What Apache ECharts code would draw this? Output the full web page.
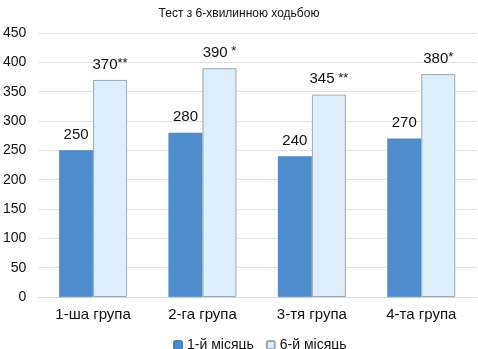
<!DOCTYPE html>
<html>
<head>
<meta charset="utf-8">
<script src="https://cdn.jsdelivr.net/npm/echarts@6/dist/echarts.min.js"></script>
<style>
html,body{margin:0;padding:0;background:#fff;}
#chart{width:478px;height:349px;}
</style>
</head>
<body>
<div id="chart"></div>
<script>
// Groups and 6-minute walk test results
const categories = ['1-ша група', '2-га група', '3-тя група', '4-та група'];
const month1 = [250, 280, 240, 270];
const month6 = [370, 390, 345, 380];
const month6Marks = ['**', ' *', ' **', '*'];
const yTicks = [0, 50, 100, 150, 200, 250, 300, 350, 400, 450];

const FONT = '"Liberation Sans", Arial, sans-serif';

const chart = echarts.init(document.getElementById('chart'));
chart.setOption({
  animation: false,
  textStyle: { fontFamily: FONT },
  title: {
    text: 'Тест з 6-хвилинною ходьбою',
    left: 'center',
    top: 3,
    textStyle: { fontFamily: FONT, fontSize: 12, fontWeight: 'normal', color: '#111' }
  },
  legend: {
    top: 333,
    left: 168,
    itemWidth: 8,
    itemHeight: 8,
    itemGap: 12,
    textStyle: { fontFamily: FONT, fontSize: 14, color: '#111' },
    data: ['1-й місяць', '6-й місяць']
  },
  grid: { left: 33, right: 2, top: 33, bottom: 52 },
  xAxis: {
    type: 'category',
    data: categories,
    axisTick: { show: false },
    axisLine: { lineStyle: { color: '#d9d9d9' } },
    axisLabel: { fontFamily: FONT, fontSize: 15, color: '#111', margin: 10 }
  },
  yAxis: {
    type: 'value',
    min: yTicks[0],
    max: yTicks[yTicks.length - 1],
    interval: 50,
    axisLine: { show: false },
    axisTick: { show: false },
    splitLine: { lineStyle: { color: '#e3e3e3' } },
    axisLabel: { fontFamily: FONT, fontSize: 14, color: '#111', margin: 12 }
  },
  series: [
    {
      name: '1-й місяць',
      type: 'bar',
      data: month1,
      barWidth: 34,
      barGap: '0%',
      itemStyle: { color: '#4f8ccb', borderColor: '#4680bd', borderWidth: 0.5 },
      label: {
        show: true,
        position: 'top',
        distance: 8,
        fontFamily: FONT,
        fontSize: 15,
        color: '#111'
      }
    },
    {
      name: '6-й місяць',
      type: 'bar',
      data: month6,
      barWidth: 34,
      itemStyle: { color: '#ddeefa', borderColor: '#9aa9b8', borderWidth: 1 },
      label: {
        show: true,
        position: 'top',
        distance: 8,
        color: '#111',
        formatter: p => '{v|' + p.value + '}{s|' + month6Marks[p.dataIndex] + '}',
        rich: {
          v: { fontFamily: FONT, fontSize: 15, color: '#111' },
          s: { fontFamily: FONT, fontSize: 13, color: '#111', padding: [0, 0, 2, 0] }
        }
      }
    }
  ]
});
</script>
</body>
</html>
